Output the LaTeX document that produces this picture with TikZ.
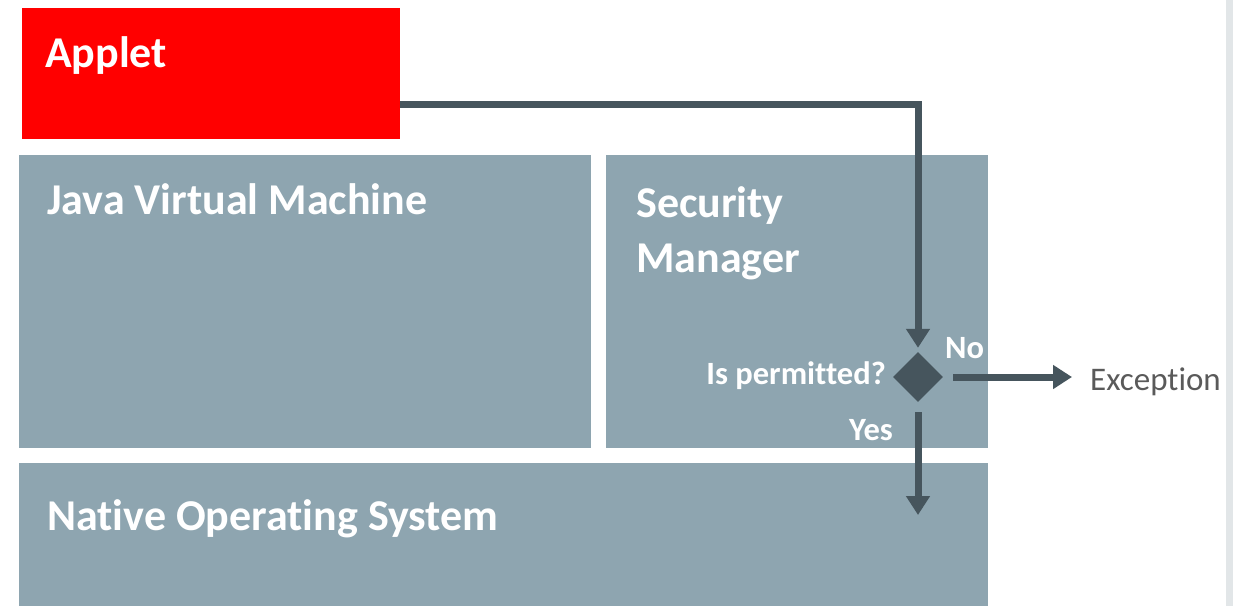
\documentclass[tikz,border=0pt]{standalone}
\usepackage{fontspec}
\setmainfont{Carlito}[Ligatures=NoCommon]
\usetikzlibrary{arrows.meta,shapes.geometric,positioning}
\definecolor{appletred}{HTML}{FF0000}
\definecolor{layer}{HTML}{8EA5B0}
\definecolor{flowdark}{HTML}{46555D}
\definecolor{exctext}{HTML}{5A5A5A}
\definecolor{edgestrip}{HTML}{E2E6E8}
\tikzset{
  box/.style={draw=none, rectangle, anchor=north west, inner sep=0pt},
  title/.style={anchor=base west, inner sep=0pt, text=white, font=\fontsize{44}{55}\selectfont\bfseries},
  small/.style={inner sep=0pt, text=white, font=\fontsize{32.5}{36}\selectfont\bfseries},
  flow/.style={draw=flowdark, line width=7pt, -{Triangle[width=23pt,length=19pt]}}
}
\begin{document}
\begin{tikzpicture}[x=1pt,y=-1pt, line join=miter]
  \useasboundingbox (0,0) rectangle (1233,606);
  \fill[edgestrip] (1226,0) rectangle (1233,606);
  % layers
  \node[box, fill=appletred, minimum width=378pt, minimum height=131pt] (applet) at (22,8) {};
  \node[box, fill=layer, minimum width=572pt, minimum height=293pt] (jvm) at (19,155) {};
  \node[box, fill=layer, minimum width=382pt, minimum height=293pt] (secman) at (606,155) {};
  \node[box, fill=layer, minimum width=969pt, minimum height=143pt] (nativeos) at (19,463) {};
  \node[title] (appletlbl) at (45,67) {Applet};
  \node[title] (jvmlbl) at (47,214) {Java Virtual Machine};
  \node[title, align=left] (secmanlbl) at (636,272) {Security\\Manager};
  \node[title] (oslbl) at (47,530) {Native Operating System};
  % permission check
  \node[diamond, fill=flowdark, inner sep=0pt, minimum size=50pt] (check) at (918,377) {};
  \node[small, anchor=base east] (asklbl) at (886,384) {Is permitted?};
  \node[small, anchor=base west] (nolbl) at (945,358) {No};
  \node[small, anchor=base east] (yeslbl) at (893,440) {Yes};
  \node[anchor=base west, inner sep=0pt, text=exctext, font=\fontsize{33}{38}\selectfont] (exc) at (1090,390) {Exception};
  \coordinate (oscall) at (918,515);
  \draw[flow, shorten >=4pt] ([yshift=35pt]applet.south east) -| (check.north);
  \draw[flow, shorten <=10pt, shorten >=18pt] (check.east) -- (check.east -| exc.west);
  \draw[flow, shorten <=10pt] (check.south) -- (oscall);
\end{tikzpicture}
\end{document}
